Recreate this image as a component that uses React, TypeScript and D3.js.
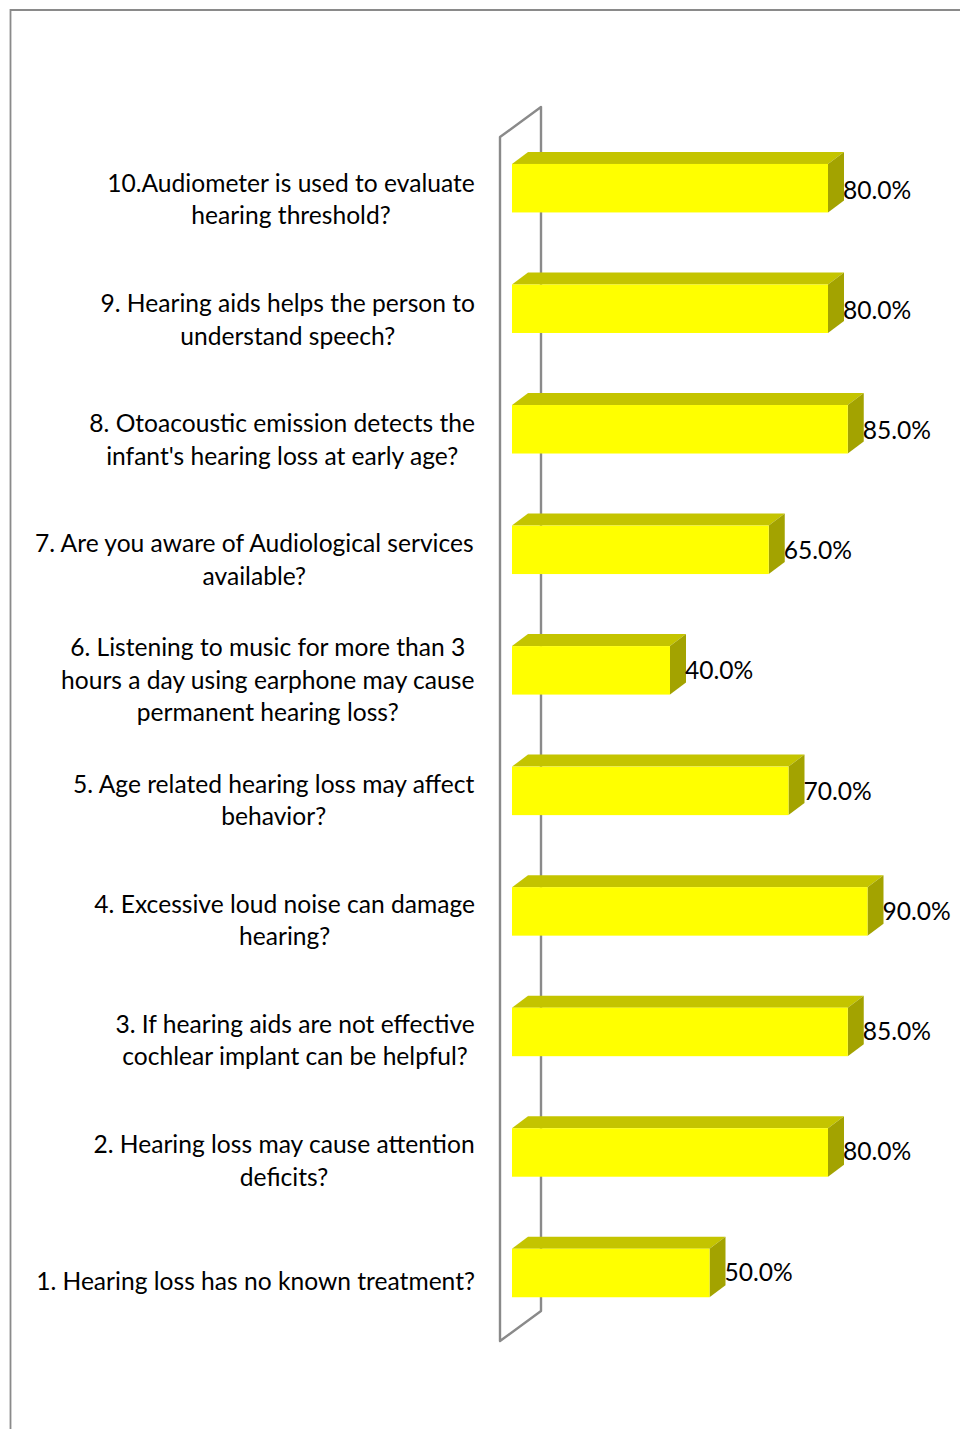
import React, { useMemo } from "react";
import * as d3 from "d3";

// Survey questions, bottom of the list last; each entry holds the wrapped lines of one label.
const questionLines: string[][] = [
  ["10.Audiometer is used to evaluate", "hearing threshold?"],
  ["9. Hearing aids helps the person to", "understand speech?"],
  ["8. Otoacoustic emission detects the", "infant's hearing loss at early age?"],
  ["7. Are you aware of Audiological services", "available?"],
  ["6. Listening to music for more than 3", "hours a day using earphone may cause", "permanent hearing loss?"],
  ["5. Age related hearing loss may affect", "behavior?"],
  ["4. Excessive loud noise can damage", "hearing?"],
  ["3. If hearing aids are not effective", "cochlear implant can be helpful?"],
  ["2. Hearing loss may cause attention", "deficits?"],
  ["1. Hearing loss has no known treatment?"],
];
const percentValues: number[] = [80, 80, 85, 65, 40, 70, 90, 85, 80, 50];

const WIDTH = 960;
const HEIGHT = 1429;
const FONT = "Lato, 'Open Sans', sans-serif";
const FONT_SIZE = 24.6;
const LINE_HEIGHT = 32.4;
const LABEL_RIGHT = 475;
const DEPTH_X = 16;
const DEPTH_Y = 12;
const BAR_HEIGHT = 48.5;
const GRID = "#8a8a8a";

export default function App() {
  const indices = d3.range(questionLines.length);
  const x = d3.scaleLinear().domain([0, 100]).range([512, 907]);
  const barY = d3.scalePoint<number>().domain(indices).range([188.2, 1273]);
  const labelY = d3.scalePoint<number>().domain(indices).range([199.6, 1281]);
  const valueY = d3.scalePoint<number>().domain(indices).range([190, 1272]);

  const blockWidths = useMemo(() => {
    const ctx = document.createElement("canvas").getContext("2d")!;
    ctx.font = `${FONT_SIZE}px Lato`;
    return questionLines.map((lines) => d3.max(lines, (l) => ctx.measureText(l).width) ?? 0);
  }, []);

  const x0 = x(0);
  const wallBack = x0 + 29;
  const wallFront = x0 - 12;
  const wallTop = 137;
  const wallBottom = 1341;
  const wallRise = 30;
  const line = d3.line();

  return (
    <svg
      width={WIDTH}
      height={HEIGHT}
      viewBox={`0 0 ${WIDTH} ${HEIGHT}`}
      style={{ position: "absolute", left: 0, top: 0, display: "block", background: "#fff" }}
      fontFamily={FONT}
      fontSize={FONT_SIZE}
    >
      {/* outer chart border, cut off by the page on the right and bottom */}
      <path d={`M10.5 ${HEIGHT} V10 H${WIDTH}`} fill="none" stroke={GRID} strokeWidth={1.8} />

      {/* category wall of the 3D chart */}
      <path
        d={
          line([
            [wallFront, wallTop],
            [wallBack, wallTop - wallRise],
            [wallBack, wallBottom - wallRise],
            [wallFront, wallBottom],
          ])! + "Z"
        }
        fill="none"
        stroke={GRID}
        strokeWidth={2.4}
        strokeLinejoin="round"
      />

      {percentValues.map((value, i) => {
        const xEnd = x(value);
        const top = barY(i)! - BAR_HEIGHT / 2;
        const bottom = top + BAR_HEIGHT;
        return (
          <g key={i}>
            <path
              d={
                line([
                  [x0, top],
                  [x0 + DEPTH_X, top - DEPTH_Y],
                  [xEnd + DEPTH_X, top - DEPTH_Y],
                  [xEnd, top],
                ])! + "Z"
              }
              fill="#c4c400"
            />
            <path
              d={
                line([
                  [xEnd, top],
                  [xEnd + DEPTH_X, top - DEPTH_Y],
                  [xEnd + DEPTH_X, bottom - DEPTH_Y],
                  [xEnd, bottom],
                ])! + "Z"
              }
              fill="#a3a300"
            />
            <rect x={x0} y={top} width={xEnd - x0} height={BAR_HEIGHT} fill="#ffff00" />
            <text x={xEnd + DEPTH_X - 1} y={valueY(i)!} dy="0.35em" fill="#000">
              {d3.format(".1f")(value)}%
            </text>
          </g>
        );
      })}

      {questionLines.map((lines, i) => {
        const cx = LABEL_RIGHT - blockWidths[i] / 2;
        const firstY = labelY(i)! - ((lines.length - 1) * LINE_HEIGHT) / 2;
        return (
          <text key={i} textAnchor="middle" fill="#000">
            {lines.map((l, j) => (
              <tspan key={j} x={cx} y={firstY + j * LINE_HEIGHT} dy="0.35em">
                {l}
              </tspan>
            ))}
          </text>
        );
      })}
    </svg>
  );
}
